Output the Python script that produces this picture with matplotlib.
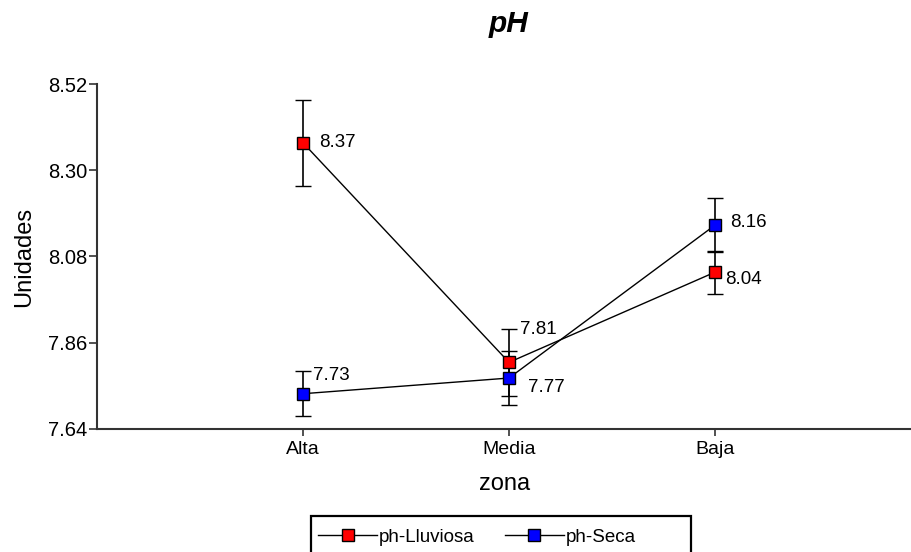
import numpy as np
import matplotlib.pyplot as plt
from matplotlib.lines import Line2D
from matplotlib.patches import Rectangle

plt.rcParams['font.family'] = ['Liberation Sans', 'DejaVu Sans']

zonas = ['Alta', 'Media', 'Baja']
lluviosa = [8.37, 7.81, 8.04]
lluviosa_err = [0.11, 0.085, 0.055]
seca = [7.73, 7.77, 8.16]
seca_err = [0.058, 0.07, 0.068]
yticks = [7.64, 7.86, 8.08, 8.30, 8.52]

x = np.arange(1, len(zonas) + 1)

fig = plt.figure(figsize=(9.12, 5.52), dpi=100)
ax = fig.add_axes([97 / 912, 1 - 429 / 552, (912 - 97) / 912, (429 - 84) / 552])

ax.errorbar(x, lluviosa, yerr=lluviosa_err, color='black', lw=1, marker='s',
            ms=8, mfc='#ff0000', mec='black', mew=1, capsize=6, elinewidth=1.2,
            capthick=1.4, zorder=3)
ax.errorbar(x, seca, yerr=seca_err, color='black', lw=1, marker='s',
            ms=8, mfc='#0000ff', mec='black', mew=1, capsize=6, elinewidth=1.2,
            capthick=1.4, zorder=3)

# etiquetas de valores
offs_ll = [(11.5, 0), (8, 24), (7, -5)]
offs_se = [(7, 13), (14, -6.5), (11, 2)]
for xi, v, o in zip(x, lluviosa, offs_ll):
    ax.annotate(f'{v:.2f}', (xi, v), xytext=o, textcoords='offset points',
                va='center', ha='left', fontsize=13.5)
for xi, v, o in zip(x, seca, offs_se):
    ax.annotate(f'{v:.2f}', (xi, v), xytext=o, textcoords='offset points',
                va='center', ha='left', fontsize=13.5)

ax.set_xlim(0, (912 - 97) / 206)
ax.set_ylim(7.64, 8.52)
ax.set_xticks(x)
ax.set_xticklabels(zonas, fontsize=14)
ax.set_yticks(yticks)
ax.set_yticklabels([f'{t:.2f}' for t in yticks], fontsize=14.5)
ax.tick_params(direction='out', length=5, width=1.2, colors='#333333',
               labelcolor='black')
ax.tick_params(axis='y', length=6, pad=1)

for s in ['top', 'right']:
    ax.spines[s].set_visible(False)
for s in ['left', 'bottom']:
    ax.spines[s].set_color('#333333')
    ax.spines[s].set_linewidth(1.5)

ax.set_xlabel('zona', fontsize=17, labelpad=11)
ax.set_ylabel('Unidades', fontsize=17, labelpad=9)
fig.text(509 / 912, 1 - 32 / 552, 'pH', fontsize=21.5, fontweight='bold',
         fontstyle='italic', ha='center', va='baseline')

# leyenda
handles = [
    Line2D([], [], color='black', lw=1, marker='s', ms=8, mfc='#ff0000',
           mec='black', mew=1),
    Line2D([], [], color='black', lw=1, marker='s', ms=8, mfc='#0000ff',
           mec='black', mew=1),
]
fig.legend(handles, ['ph-Lluviosa', 'ph-Seca'], loc='center left',
           bbox_to_anchor=(318 / 912, 1 - 537 / 552), ncol=2, frameon=False,
           fontsize=13.5, handlelength=3.15, columnspacing=1.6,
           borderpad=0, borderaxespad=0, handletextpad=0.1)
fig.add_artist(Rectangle((311 / 912, -0.05), (691 - 311) / 912,
                         0.05 + 1 - 516 / 552, transform=fig.transFigure,
                         fill=False, edgecolor='black', lw=1.6))

fig.savefig('out.png', dpi=100)
